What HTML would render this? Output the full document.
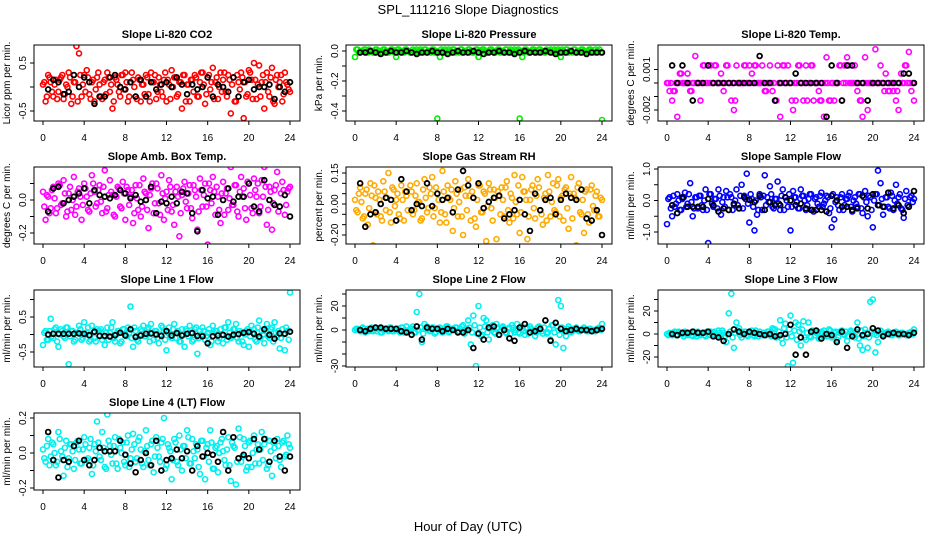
<!DOCTYPE html>
<html><head><meta charset="utf-8">
<style>
html,body{margin:0;padding:0;background:#fff;}
svg{display:block;font-family:"Liberation Sans",Arial,sans-serif;}
</style></head>
<body>
<svg id="chart" width="936" height="540" viewBox="0 0 936 540">
<rect x="0" y="0" width="936" height="540" fill="#fff"/>
<text x="468" y="14" text-anchor="middle" font-size="13">SPL_111216  Slope Diagnostics</text>
<text x="468" y="531" text-anchor="middle" font-size="13">Hour of Day (UTC)</text>
</svg>
<script>
const hoursC = Array.from({length:97},(_,i)=>i/4);
const hoursC2 = Array.from({length:96},(_,i)=>0.125+i/4);
const hoursB = Array.from({length:48},(_,i)=>0.5+i*0.5);
const xTicks = [0,4,8,12,16,20,24];
const xTickLabels = ["0","4","8","12","16","20","24"];

const p1c=[0.05,-0.3,0.25,0.1,-0.2,0.15,-0.1,0.2,-0.25,0.05,0.3,-0.35,0.1,0.85,0.7,-0.2,0.25,0.35,-0.15,0.1,-0.3,0.2,0.05,-0.25,0.15,0.3,-0.1,-0.45,0.2,0.05,-0.2,0.25,0.3,-0.3,0.1,0.15,-0.2,0.2,-0.3,0.05,0.25,-0.15,0.3,0.1,-0.25,0.2,-0.1,0.15,-0.3,0.05,0.35,0.2,-0.2,0.1,-0.45,0.25,0.05,-0.3,0.15,0.25,-0.2,0.1,0.3,-0.35,0.2,-0.05,0.4,0.1,-0.25,0.3,0.15,-0.1,0.25,-0.55,0.2,-0.3,0.1,0.3,-0.65,-0.2,0.35,0.15,0.5,-0.25,0.45,0.1,-0.45,0.3,-0.2,0.4,-0.35,0.25,0.1,-0.3,0.3,0.05,-0.1];
const p1c2=[0.1,-0.2,0.2,-0.1,0.05,-0.25,0.15,0.25,-0.15,0,0.2,-0.2,0.1,-0.3,0.25,0.05,-0.1,0.2,-0.25,0.15,-0.05,0.3,-0.2,0.1,-0.15,0.2,0.05,-0.3,0.15,-0.1,0.25,-0.05,0.1,-0.2,0.3,0,-0.25,0.15,0.05,-0.15,0.2,-0.3,0.1,0.25,-0.1,0.05,-0.2,0.3,0.15,-0.25,0,0.2,-0.15,0.1,0.25,-0.3,0.05,0.15,-0.1,0.2,-0.2,0.3,0.05,-0.15,0.25,0.1,-0.25,0.2,0,-0.1,0.3,-0.2,0.15,0.05,-0.3,0.25,-0.05,0.2,0.1,-0.15,0.3,-0.25,0.15,0.05,-0.2,0.25,0.1,-0.1,0.2,-0.3,0.15,0,0.25,-0.15,0.1,-0.05];
const p1b=[-0.05,0.15,0.1,-0.15,-0.1,0.25,0,0.2,0.1,-0.35,-0.2,-0.2,0.2,0.25,0,-0.05,0.1,-0.2,0.15,-0.2,0.1,-0.05,0.05,0.1,0,0.2,0.05,-0.15,0.05,-0.05,0,0.2,-0.2,0.05,0,-0.1,0.2,-0.2,0.1,0.15,-0.05,0,0,0.05,-0.25,0,-0.1,0.1];
const p2c=[-0.04,0.01,-0.01,0,0.01,-0.01,0,-0.01,0.01,0,-0.01,0.01,0,-0.01,0.01,0,-0.04,0.01,0,-0.01,0.01,0,-0.01,0,0.01,-0.01,0,0.01,-0.01,0,0.01,-0.01,-0.45,-0.04,0,0.01,-0.01,0,0.01,-0.01,0,0.01,-0.01,0,0.01,0,-0.01,0.01,-0.04,0,0.01,-0.01,0,0.01,-0.01,0,0.01,0,-0.01,0.01,0,-0.01,0.01,0,-0.45,-0.04,0.01,0,-0.01,0.01,0,-0.01,0.01,0,-0.01,0,0.01,-0.01,0,0.01,-0.04,0,0.01,-0.01,0,0.01,-0.01,0,0.01,0,-0.01,0.01,0,-0.01,0,0.01,-0.46];
const p2c2=[0.01,-0.01,0,0.01,-0.01,0.01,0,-0.01,0.01,0,-0.01,0.01,-0.01,0,0.01,-0.01,0.01,0,-0.01,0.01,0,-0.01,0.01,-0.01,0,0.01,-0.01,0.01,0,-0.01,0.01,0,-0.01,0.01,-0.01,0,0.01,-0.01,0.01,0,-0.01,0.01,0,-0.01,0.01,-0.01,0,0.01,-0.01,0.01,0,-0.01,0.01,0,-0.01,0.01,-0.01,0,0.01,-0.01,0.01,0,-0.01,0.01,0,-0.01,0.01,-0.01,0,0.01,-0.01,0.01,0,-0.01,0.01,0,-0.01,0.01,-0.01,0,0.01,-0.01,0.01,0,-0.01,0.01,0,-0.01,0.01,-0.01,0,0.01,-0.01,0.01,0,-0.01];
const p2b=[-0.01,-0.01,0,-0.01,-0.02,-0.01,0,-0.01,-0.01,0,-0.01,-0.02,-0.01,-0.01,0,-0.01,-0.01,-0.02,-0.01,0,-0.01,-0.01,0,-0.01,-0.02,-0.01,-0.01,0,-0.01,-0.01,-0.02,-0.01,0,-0.01,-0.01,-0.01,0,-0.01,-0.02,-0.01,-0.01,0,-0.01,-0.01,-0.02,-0.01,-0.01,-0.01];
const p3c=[0,-0.0006,-0.0013,-0.0006,-0.0025,0.0007,0,0,0.0007,-0.0006,0,0.002,0,-0.0013,0.0013,0,0.0013,0.0013,0,0.0013,0,0.0007,-0.0006,0.0013,0,-0.0013,-0.002,0.0013,0,0,0.0013,0,0.0013,0.0007,0.0013,0,0,0.0013,-0.0006,0,0.0013,-0.0006,-0.0013,0.0013,-0.0025,0.0013,0,0.0013,0,-0.002,-0.0013,0.0013,0,-0.0013,0.0013,0,0.0013,-0.0013,0,-0.0006,-0.0013,-0.0025,0.0019,-0.0013,0,-0.0013,0,0.0013,-0.0013,0.0013,0.0019,0,0,0.0013,-0.0006,-0.0013,-0.0025,0.0019,-0.002,0,0,0.0025,0,0.0013,0,0.0007,-0.0006,0,-0.0006,-0.0013,-0.002,0.0007,0,0.0013,0.0023,-0.0006,-0.0013];
const p3c2=[0,0,-0.0006,0,0,0.0007,0,0,0,-0.0006,0,0,0,0,0.0013,0,0,0,0.0013,0,0,0,0,0.0013,0,0,-0.0013,0,0,0,0.0013,0,0,0,0.0013,0,0,0,-0.0006,0,0,0,-0.0013,0,0,0.0013,0,0,-0.0013,0,0,0.0013,0,0,-0.0013,0,0.0013,0,0,-0.0013,0,0,0,-0.0013,0,0,0,0.0013,0,0,0.0013,0,0,0,0,-0.0013,0,0,0,0,0,0,0,0,-0.0006,0,-0.0006,0,0,-0.0006,0,0,0.0013,0,0,0];
const p3b=[0.0013,0,0.0013,0,-0.0013,0,0,0.0013,0,0,0,0,0,0,0,0,0,0.002,0,0,-0.0013,0,0,0,0.0007,0,0,0,0,0,-0.0025,0.0013,0,-0.0013,0.0013,0.0013,0,0,-0.0013,0,0,0,0,0,0,0.0007,0.0007,0];
const p4c=[0.05,-0.12,0.02,-0.05,0.08,-0.08,0.1,-0.03,0.12,-0.1,0.04,-0.06,0.14,-0.04,0.07,-0.12,0.1,0.02,-0.07,0.15,0.05,-0.02,0.09,-0.08,0.18,-0.05,0.12,0.03,-0.1,0.08,-0.04,0.11,-0.12,0.06,0.02,-0.14,0.09,-0.06,-0.1,0.13,0.04,-0.17,0.07,-0.08,0.1,-0.02,0.15,-0.12,0.05,0.12,-0.07,-0.15,0.08,-0.22,0.03,0.11,-0.05,0.09,-0.11,0.06,-0.18,0.13,-0.04,0.1,-0.27,0.06,0.14,-0.09,0.02,-0.14,0.11,0.04,-0.06,0.2,-0.03,0.09,-0.1,0.14,0.07,-0.12,0.1,-0.05,0.13,0.02,-0.08,0.12,0.2,-0.15,0.08,-0.18,0.06,0.17,-0.04,0.11,-0.09,0.05,0.08];
const p4c2=[-0.04,0.03,-0.08,0.06,0.01,-0.05,0.09,-0.02,0.04,-0.07,0.08,0,-0.09,0.05,0.02,-0.03,0.07,-0.06,0.04,0.1,-0.04,0.06,-0.01,0.08,-0.07,0.03,0.05,-0.09,0.02,0.07,-0.05,0.04,0.08,-0.03,0.06,-0.08,0.01,0.09,-0.04,0.05,-0.06,0.03,0.1,-0.02,0.07,-0.09,0.04,0.01,-0.06,0.08,-0.03,0.05,0.02,-0.08,0.07,-0.01,0.04,-0.05,0.09,0.02,-0.07,0.06,0.03,-0.04,0.1,-0.02,0.05,0.08,-0.06,0.04,-0.09,0.07,0.01,-0.03,0.09,-0.07,0.05,0.02,-0.05,0.11,0.03,-0.08,0.06,0.1,-0.04,0.02,0.08,-0.06,0.05,-0.02,0.09,-0.07,0.04,0.06,-0.03,0.07];
const p4b=[-0.07,0.07,0.08,-0.02,0,0.02,0.04,0.07,-0.02,0.06,0.03,0.02,0.01,0.03,0.06,0.04,0.01,0.03,-0.01,0,0.08,-0.08,-0.01,-0.02,0.02,-0.02,0.05,0.04,-0.08,-0.19,0.06,0.01,0.02,-0.09,0,0.07,-0.01,0.02,0.02,0.1,-0.04,-0.07,0.12,0,-0.03,-0.04,0.03,-0.1];
const p5c=[0.02,-0.04,0.08,-0.07,0.05,-0.1,0.1,-0.2,0.03,0.06,-0.06,0.11,-0.03,0.15,-0.09,0.07,0.02,-0.05,0.09,-0.08,0.04,-0.21,0.06,-0.03,0.1,0.01,-0.07,0.12,-0.04,0.08,0.13,-0.02,0.05,-0.09,0.16,-0.05,0.09,0.02,-0.13,0.11,-0.06,0.07,-0.15,0.04,0.12,-0.08,0.03,-0.11,0.09,-0.04,0.06,-0.18,0.1,-0.02,0.07,-0.17,0.04,0.08,-0.06,0.11,-0.09,0.03,0.14,-0.05,-0.14,0.13,0.06,-0.17,0.02,0.09,-0.07,0.12,-0.03,-0.1,0.05,0.14,-0.06,0.1,-0.04,0.12,0.03,-0.08,0.08,-0.12,0.13,0.05,-0.2,0.1,-0.05,-0.14,0.07,-0.09,0.09,-0.03,0.06,-0.06,0.02];
const p5c2=[-0.03,0.05,0.01,-0.06,0.07,-0.02,0.04,0.09,-0.05,0.02,-0.08,0.06,0.03,-0.04,0.08,-0.01,0.05,-0.07,0.02,0.06,-0.03,0.09,-0.05,0.04,0.01,-0.08,0.07,0.03,-0.02,0.05,-0.06,0.08,0.02,-0.04,0.06,-0.09,0.03,0.07,-0.02,0.05,0.01,-0.06,0.08,-0.03,0.04,0.06,-0.07,0.02,0.09,-0.04,0.05,-0.01,0.07,-0.08,0.03,0.06,-0.05,0.02,0.08,-0.03,0.05,-0.07,0.01,0.09,-0.04,0.06,0.02,-0.06,0.07,-0.02,0.04,0.08,-0.05,0.03,-0.08,0.06,0.01,-0.03,0.09,-0.06,0.04,0.07,-0.02,0.05,-0.07,0.03,0.08,-0.04,0.02,0.06,-0.05,0.07,-0.01,0.04,-0.06,0.03];
const p5b=[0.1,-0.11,-0.05,-0.04,0,0.03,0.02,-0.08,0.12,0.06,-0.03,0,-0.01,0.1,-0.01,0.05,0.02,0.03,-0.04,0.07,0.16,0.09,0.03,0.1,-0.02,0.01,0.03,0.04,-0.07,-0.05,-0.03,0.02,-0.05,-0.13,0.05,-0.03,0.02,0.03,-0.05,0.02,0.05,0.03,0.02,0.07,-0.07,-0.08,-0.03,-0.15];
const p6c=[-0.75,0.1,-0.5,-0.2,0.2,-0.3,0.05,0.25,-0.1,0.55,-0.5,0.1,-0.25,0.15,-0.3,0.35,-1.35,0.2,-0.2,0.05,0.35,-0.45,0.1,0.3,-0.3,0.1,-0.15,0.35,-0.25,0.5,0.15,0.85,-0.7,0.05,-0.95,-0.45,0.2,-0.3,0.8,0.1,0.45,-0.2,0.05,0.6,-0.3,0.35,0.1,-0.2,-0.95,0.3,0.1,-0.25,0.35,0.15,-0.3,0.05,0.2,-0.35,0.1,-0.2,0.25,-0.1,0.15,-0.4,-0.85,-0.6,0.1,-0.3,0.2,-0.15,0.05,0.25,-0.35,0.1,-0.2,0.2,-0.4,0.3,-0.5,0.1,-0.85,0.2,0.95,0.55,-0.45,0.1,-0.2,0.25,-0.3,0.5,0.1,-0.25,-0.55,0.3,-0.2,0.15,0.05];
const p6c2=[0.05,-0.25,0.15,-0.1,0,-0.3,0.1,-0.2,0.2,-0.05,-0.25,0.1,0.15,-0.15,0,-0.3,0.2,-0.1,0.05,-0.25,0.15,-0.05,-0.2,0.1,0.2,-0.3,0,-0.15,0.15,-0.25,0.05,-0.1,0.2,-0.2,0,-0.3,0.1,0.15,-0.15,-0.05,0.2,-0.25,0.05,-0.1,0.15,-0.3,0,0.2,-0.2,0.1,-0.05,-0.25,0.15,0,-0.15,0.2,-0.3,0.05,-0.1,0.15,-0.2,0,0.1,-0.25,0.2,-0.05,-0.15,0.1,-0.3,0.05,0.15,-0.2,0,-0.1,0.2,-0.25,0.1,-0.05,0.15,-0.3,0,0.2,-0.15,0.05,-0.2,0.1,-0.25,0.15,0,-0.1,0.2,-0.3,0.05,-0.15,0.1,-0.05];
const p6b=[-0.15,-0.4,0.1,-0.2,-0.2,-0.2,-0.2,0.05,-0.15,-0.35,-0.25,-0.3,-0.1,-0.25,0.1,0.02,-0.05,0.15,-0.3,-0.05,-0.15,-0.15,0.1,0,-0.15,-0.1,-0.25,-0.3,-0.3,-0.3,-0.35,0.15,0,-0.2,-0.2,-0.3,-0.25,0.15,-0.25,0.2,-0.15,-0.2,0.25,-0.25,-0.15,-0.4,-0.2,0.3];
const p7c=[-0.3,0.1,-0.15,0.45,-0.1,0.2,-0.35,0.15,-0.05,0.2,-0.85,0.1,-0.2,0.05,0.25,-0.15,0.35,0.05,-0.2,0.25,-0.1,0.15,0.1,-0.15,-0.3,0.2,0.05,0.35,-0.2,0.1,-0.25,0.15,0.02,0.2,0.8,-0.35,0.1,-0.2,0.15,0.25,-0.05,0.2,0.3,-0.15,0.1,-0.25,0.25,0.1,-0.45,0.2,-0.1,0.3,0.05,-0.2,0.15,-0.35,0.1,0.25,-0.2,0.15,-0.55,0.1,0.2,-0.15,0.05,-0.3,0.25,0.1,-0.2,0.15,-0.25,0.2,0.35,-0.1,0.15,0.3,-0.2,0.05,-0.3,0.1,-0.35,0.25,0.15,-0.2,0.4,0.1,-0.25,0.3,-0.1,0.2,0.35,-0.05,-0.4,0.15,-0.45,0.1,1.2];
const p7c2=[0.05,-0.15,0.1,-0.05,0.15,-0.2,0,0.1,-0.1,0.2,-0.05,0.1,-0.15,0.05,0.15,-0.1,0,0.2,-0.15,0.05,-0.2,0.1,0.15,-0.05,0.05,-0.15,0.2,-0.1,0,0.1,-0.2,0.15,-0.05,0.05,-0.1,0.2,-0.15,0,0.1,-0.05,0.15,-0.2,0.05,0.1,-0.1,0,0.2,-0.15,0.05,-0.05,0.15,-0.1,0.1,-0.2,0,0.15,-0.05,0.05,-0.15,0.2,-0.1,0,0.1,-0.05,0.15,-0.2,0.05,0.1,-0.1,0,0.2,-0.15,0.05,-0.05,0.15,-0.1,0.1,-0.2,0,0.15,-0.05,0.05,-0.15,0.2,-0.1,0,0.1,-0.05,0.15,-0.2,0.05,0.1,-0.1,0,0.2,-0.15];
const p7b=[0,0.02,0.02,0.02,0.02,0.02,0.03,0.02,-0.02,0.08,-0.04,-0.04,-0.06,-0.02,0.05,-0.03,0.15,-0.07,-0.03,0.02,0.03,0,-0.04,0.1,-0.03,0.04,-0.03,0.02,0.04,-0.04,-0.05,-0.25,-0.05,-0.03,-0.01,-0.06,-0.01,0.01,0.05,0.07,0.02,-0.06,0.15,-0.01,-0.12,0.03,0.02,0.08];
const p8c=[0,1,-1,2,-2,1,0,-1,2,1,-2,0,1,-1,2,-1,0,1,2,-2,3,-1,1,-2,15,30,-10,5,3,-1,2,-3,1,2,-2,0,3,-1,1,2,-2,1,4,-1,8,-12,12,-30,20,-5,10,8,-8,3,-2,5,-4,2,1,-3,2,4,-2,5,-3,1,-4,2,3,-1,-5,2,1,-3,8,-2,-8,4,-12,25,20,-15,-5,3,-2,1,2,-1,0,2,-1,1,0,-1,1,2,5];
const p8c2=[1,0,-1,1,0,-1,2,0,-1,1,-2,1,0,2,-1,0,1,-2,2,0,-1,1,3,-2,0,2,-3,1,0,-1,2,-2,1,0,-1,3,-2,1,0,2,-1,3,-3,1,2,-2,4,-3,2,-4,3,-2,1,4,-3,2,-1,3,-2,1,-3,2,0,-2,3,-1,2,-3,1,0,-2,3,-1,2,-3,1,4,-2,3,-4,2,-1,1,0,-1,1,0,-1,1,0,-1,1,0,-1,1,0];
const p8b=[0,-1,1,2,2,1,1,1,-1,-2,-4,3,-8,2,1,1,-1,1,0,-2,-2,0,-15,-3,-8,2,3,-4,0,-7,-9,2,5,-2,-1,1,8,-9,6,1,-1,0,1,0,0,-1,0,1];
const p9c=[0,1,-1,2,-1,1,0,2,-1,1,-2,0,2,-1,1,-2,0,2,1,-1,3,-2,1,-7,18,35,-12,10,5,-3,2,-1,1,3,-2,0,2,-1,1,2,-1,5,4,-2,12,-8,9,-28,16,-25,10,8,-10,11,-5,10,-3,2,1,-4,2,3,-2,4,-3,1,-5,2,3,-1,-6,2,1,-3,10,-10,-14,4,-12,28,30,-16,-7,3,-2,1,2,-1,0,2,-1,1,0,-1,1,2,4];
const p9c2=[-1,0,1,-1,2,0,-2,1,0,-1,2,-2,1,0,-1,2,-1,0,2,-2,1,3,-2,0,2,-3,1,3,-1,0,2,-2,1,-1,3,-2,0,1,-1,2,-2,4,-3,2,-4,5,-3,4,-2,3,-5,2,4,-3,1,-2,3,-1,2,-3,1,0,-2,3,-1,2,-3,1,0,2,-2,3,-1,2,-4,3,-2,1,-3,2,0,-1,1,0,-1,1,0,-1,1,0,-1,1,0,-1,1,0];
const p9b=[0,-1,1,1,2,1,1,2,-2,-3,-6,0,4,2,0,2,1,0,-1,0,-2,-1,0,8,-18,-3,-18,2,3,-4,0,-1,-7,2,-12,-2,4,-1,0,5,3,-2,0,1,0,0,-1,1];
const p10c=[0.02,-0.05,0.08,-0.02,0.05,-0.07,0.12,0.01,-0.13,0.07,-0.03,0.05,-0.09,0.06,0.02,-0.06,0.09,-0.04,0.03,-0.12,0.05,0.18,-0.02,0.12,-0.08,0.22,0.04,-0.06,0.09,-0.09,0.03,0.06,-0.07,0.1,-0.03,0.11,-0.05,0.07,0.02,-0.08,0.13,-0.04,0.05,-0.11,0.09,-0.02,0.06,0.2,-0.07,0.03,-0.15,0.08,-0.05,0.1,-0.1,0.04,0.13,-0.06,0.08,-0.03,0.02,-0.12,0.07,-0.15,0.05,0.13,-0.09,0.03,-0.11,0.06,0.01,-0.07,0.09,-0.16,0.04,-0.18,0.14,-0.05,0.08,-0.1,0.06,-0.08,0.1,0.02,-0.06,0.12,0.05,-0.09,0.07,-0.13,0.03,0.08,-0.04,0.06,-0.02,0.1,0.03];
const p10c2=[-0.03,0.04,-0.07,0.06,0,-0.05,0.08,-0.02,0.03,-0.08,0.05,0.01,-0.04,0.07,-0.06,0.02,0.05,-0.03,0.08,-0.07,0.01,0.06,-0.04,0.03,-0.09,0.07,-0.01,0.04,-0.06,0.08,0,-0.05,0.06,-0.08,0.02,0.05,-0.03,0.09,-0.06,0.01,0.04,-0.07,0.07,-0.02,0.03,-0.05,0.08,-0.09,0.05,0.01,-0.04,0.06,-0.07,0.02,0.04,-0.03,0.09,-0.06,0.01,0.05,-0.08,0.07,-0.02,0.03,-0.05,0.06,-0.09,0.04,0,0.08,-0.04,0.02,-0.07,0.06,0.03,-0.05,0.09,-0.02,0.04,-0.08,0.07,0,-0.06,0.05,0.02,-0.04,0.08,-0.07,0.01,0.06,-0.03,0.04,-0.08,0.07,-0.01,0.05];
const p10b=[0.12,-0.04,-0.14,-0.04,-0.05,0.04,0.07,-0.04,-0.07,-0.04,0.03,0.01,0.01,0.01,0.07,-0.01,-0.06,-0.11,-0.04,0,-0.07,0.07,-0.1,-0.04,-0.03,0.02,-0.03,0.01,-0.1,0.04,-0.02,0,-0.01,-0.05,0.12,-0.1,0.09,-0.03,-0.01,-0.03,0.08,0.02,0.08,-0.05,0.07,-0.02,-0.1,-0.02];

const cols=[[34,300],[346,612],[658,924]];
const rows=[[45,121],[167,244],[290,367],[413,490]];
const panels=[
 {name:"co2",title:"Slope Li-820 CO2",yt:"Licor ppm per min.",c:0,r:0,col:"#ff0000",yc:p1c,yc2:p1c2,yb:p1b,m:[0.5,63,-0.5,111],tv:[0.5,0,-0.5],tl:["0.5","","-0.5"]},
 {name:"pressure",title:"Slope Li-820 Pressure",yt:"kPa per min.",c:1,r:0,col:"#00ee00",yc:p2c,yc2:p2c2,yb:p2b,m:[0,51,-0.4,111],tv:[0,-0.1,-0.2,-0.3,-0.4],tl:["0.0","","-0.2","","-0.4"]},
 {name:"temp",title:"Slope Li-820 Temp.",yt:"degrees C per min.",c:2,r:0,col:"#ff00ff",yc:p3c,yc2:p3c2,yb:p3b,m:[0,83,-0.002,110],tv:[0.001,0,-0.001,-0.002],tl:["0.001","","","-0.002"]},
 {name:"amb-box-temp",title:"Slope Amb. Box Temp.",yt:"degrees C per min.",c:0,r:1,col:"#ff00ff",yc:p4c,yc2:p4c2,yb:p4b,m:[0,200,-0.2,233],tv:[0.1,0,-0.1,-0.2],tl:["","0.0","","-0.2"]},
 {name:"gas-rh",title:"Slope Gas Stream RH",yt:"percent per min.",c:1,r:1,col:"#ffaa00",yc:p5c,yc2:p5c2,yb:p5b,m:[0.15,173,0,204],tv:[0.15,0.1,0.05,0,-0.05,-0.1,-0.15],tl:["0.15","","","0.00","","","-0.20"]},
 {name:"sample-flow",title:"Slope Sample Flow",yt:"ml/min per min.",c:2,r:1,col:"#0000ff",yc:p6c,yc2:p6c2,yb:p6b,m:[1,169,-1,232],tv:[1,0.5,0,-0.5,-1],tl:["1.0","","0.0","","-1.0"]},
 {name:"line1-flow",title:"Slope Line 1 Flow",yt:"ml/min per min.",c:0,r:2,col:"#00f0f0",yc:p7c,yc2:p7c2,yb:p7b,m:[0.5,317,-0.5,352],tv:[1,0.5,0,-0.5],tl:["","0.5","","-0.5"]},
 {name:"line2-flow",title:"Slope Line 2 Flow",yt:"ml/min per min.",c:1,r:2,col:"#00f0f0",yc:p8c,yc2:p8c2,yb:p8b,m:[20,306,-30,366],tv:[30,20,10,0,-10,-20,-30],tl:["","20","","0","","","-30"]},
 {name:"line3-flow",title:"Slope Line 3 Flow",yt:"ml/min per min.",c:2,r:2,col:"#00f0f0",yc:p9c,yc2:p9c2,yb:p9b,m:[20,311,-20,357],tv:[30,20,10,0,-10,-20],tl:["","20","","0","","-20"]},
 {name:"line4-flow",title:"Slope Line 4 (LT) Flow",yt:"ml/min per min.",c:0,r:3,col:"#00f0f0",yc:p10c,yc2:p10c2,yb:p10b,m:[0.2,418,-0.2,488],tv:[0.2,0.1,0,-0.1,-0.2],tl:["0.2","","0.0","","-0.2"]}
];
const NS="http://www.w3.org/2000/svg";
const svg=document.getElementById('chart');
function mk(tag,attrs,parent){const e=document.createElementNS(NS,tag);for(const k in attrs)e.setAttribute(k,attrs[k]);parent.appendChild(e);return e;}
panels.forEach(p=>{
  const [x0,x1]=cols[p.c],[y0,y1]=rows[p.r];
  const g=mk('g',{},svg);
  
  
  const xs=h=>x0+9+(h/24)*(x1-x0-19);
  const ys=v=>p.m[1]+(v-p.m[0])*(p.m[3]-p.m[1])/(p.m[2]-p.m[0]);
  const clip=mk('clipPath',{id:'cl-'+p.name},g);
  mk('rect',{x:x0,y:y0,width:x1-x0,height:y1-y0},clip);
  const title=mk('text',{x:(x0+x1)/2,y:y0-7,'text-anchor':'middle','font-size':11,'font-weight':'bold'},g);
  title.textContent=p.title;
  
  
  const yt=mk('text',{transform:`translate(${x0-24},${(y0+y1)/2}) rotate(-90)`,'text-anchor':'middle','font-size':10},g);
  yt.textContent=p.yt;
  
  
  xTicks.forEach((t,i)=>{
    const x=xs(t);
    const tk=mk('line',{x1:x,x2:x,y1:y1,y2:y1+4,stroke:'#000','stroke-width':1},g);
    
    
    const lb=mk('text',{x:x,y:y1+20,'text-anchor':'middle','font-size':10},g);
    lb.textContent=xTickLabels[i];
    
    
  });
  p.tv.forEach((v,i)=>{
    const y=ys(v);
    if(y<y0-1||y>y1+1)return;
    const tk=mk('line',{x1:x0-4,x2:x0,y1:y,y2:y,stroke:'#000','stroke-width':1},g);
    
    
    if(p.tl[i]){
      const lb=mk('text',{transform:`translate(${x0-8},${y}) rotate(-90)`,'text-anchor':'middle','font-size':10},g);
      lb.textContent=p.tl[i];
      
      
    }
  });
  const pts=mk('g',{'clip-path':`url(#cl-${p.name})`},g);
  
  
  p.yc.forEach((v,i)=>{
    if(i>=hoursC.length)return;
    const c=mk('circle',{cx:xs(hoursC[i]),cy:ys(v),r:2.5,fill:'none',stroke:p.col,'stroke-width':1.6},pts);
    
    
  });
  p.yc2.forEach((v,i)=>{
    if(i>=hoursC2.length)return;
    const c=mk('circle',{cx:xs(hoursC2[i]),cy:ys(v),r:2.5,fill:'none',stroke:p.col,'stroke-width':1.6},pts);
    
    
  });
  p.yb.forEach((v,i)=>{
    if(i>=hoursB.length)return;
    const c=mk('circle',{cx:xs(hoursB[i]),cy:ys(v),r:2.4,fill:'none',stroke:'#000','stroke-width':1.8},pts);
    
    
  });
  const box=mk('rect',{x:x0,y:y0,width:x1-x0,height:y1-y0,fill:'none',stroke:'#000','stroke-width':1},g);
  
  
});
</script>
</body></html>
